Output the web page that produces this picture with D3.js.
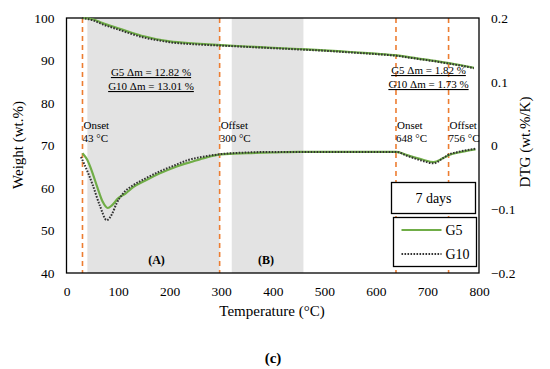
<!DOCTYPE html>
<html>
<head>
<meta charset="utf-8">
<script src="https://cdn.jsdelivr.net/npm/d3@7"></script>
<style>
  body { margin: 0; background: #fff; }
  text { font-family: "Liberation Serif", "Times New Roman", serif; fill: #000; }
</style>
</head>
<body>
<div id="chart"></div>
<script>
// temperature grid for the weight (TG) curves
var tgTemp = [30, 50, 70, 100, 125, 150, 175, 200, 250, 300, 350, 400, 450, 500, 550, 600, 640, 680, 720, 760, 790];
var tgG5   = [100, 99.7, 98.8, 97.6, 96.6, 95.7, 95.0, 94.5, 94.0, 93.6, 93.3, 93.0, 92.7, 92.4, 92.0, 91.6, 91.2, 90.5, 89.8, 89.0, 88.3];
var tgG10  = [100, 99.5, 98.5, 97.3, 96.3, 95.4, 94.8, 94.3, 93.8, 93.5, 93.2, 92.9, 92.6, 92.3, 91.9, 91.5, 91.1, 90.4, 89.7, 88.9, 88.2];

// DTG curves (wt.%/K)
var dtgTempG5 = [31, 40, 50, 60, 70, 80, 88, 100, 115, 130, 155, 180, 210, 245, 270, 300, 350, 400, 450, 500, 550, 600, 640, 660, 690, 712, 730, 742, 760, 793];
var dtgG5     = [-0.012, -0.022, -0.042, -0.066, -0.088, -0.098, -0.094, -0.083, -0.075, -0.065, -0.054, -0.044, -0.034, -0.025, -0.019, -0.014, -0.012, -0.011, -0.010, -0.010, -0.010, -0.010, -0.010, -0.015, -0.022, -0.026, -0.020, -0.015, -0.011, -0.006];
var dtgTempG10 = [28, 35, 50, 65, 78, 88, 97, 110, 130, 150, 180, 210, 235, 270, 300, 350, 400, 450, 500, 550, 600, 640, 660, 690, 712, 730, 742, 760, 793];
var dtgG10     = [-0.018, -0.03, -0.06, -0.095, -0.117, -0.108, -0.091, -0.075, -0.062, -0.053, -0.041, -0.031, -0.023, -0.017, -0.0135, -0.011, -0.010, -0.010, -0.010, -0.010, -0.010, -0.010, -0.016, -0.024, -0.028, -0.020, -0.014, -0.010, -0.005];

var xTicks = [0, 100, 200, 300, 400, 500, 600, 700, 800];
var wTicks = [40, 50, 60, 70, 80, 90, 100];
var dTicks = [-0.2, -0.1, 0, 0.1, 0.2];

var shaded = [[40.5, 297], [320.5, 459.5]];
var markers = [31, 297, 639, 741];
var markerLabels = [["Onset", "43 °C"], ["Offset", "300 °C"], ["Onset", "648 °C"], ["Offset", "756 °C"]];

var width = 550, height = 369;
var m = {left: 66.5, right: 479, top: 18, bottom: 273};

var svg = d3.select("#chart").append("svg")
  .attr("width", width).attr("height", height);

var x = d3.scaleLinear().domain([0, 800]).range([m.left, m.right]);
var yW = d3.scaleLinear().domain([40, 100]).range([m.bottom, m.top]);
var yD = d3.scaleLinear().domain([-0.2, 0.2]).range([m.bottom, m.top]);

// shaded regions
svg.append("g").selectAll("rect").data(shaded).enter().append("rect")
  .attr("x", function(d) { return x(d[0]); })
  .attr("width", function(d) { return x(d[1]) - x(d[0]); })
  .attr("y", m.top).attr("height", m.bottom - m.top)
  .attr("fill", "#e3e3e3");

// dashed orange markers
svg.append("g").selectAll("line").data(markers).enter().append("line")
  .attr("x1", function(d) { return x(d); }).attr("x2", function(d) { return x(d); })
  .attr("y1", m.top).attr("y2", m.bottom)
  .attr("stroke", "#ed7d31").attr("stroke-width", 1.6)
  .attr("stroke-dasharray", "5,4");

// axes (labels only, no ticks)
var gx = svg.append("g").attr("transform", "translate(0," + m.bottom + ")")
  .call(d3.axisBottom(x).tickValues(xTicks).tickSize(0).tickPadding(13));
var gl = svg.append("g").attr("transform", "translate(" + m.left + ",0)")
  .call(d3.axisLeft(yW).tickValues(wTicks).tickSize(0).tickPadding(12));
var gr = svg.append("g").attr("transform", "translate(" + m.right + ",0)")
  .call(d3.axisRight(yD).tickValues(dTicks).tickSize(0).tickPadding(12)
    .tickFormat(function(d) { return d3.format("")(+d.toFixed(1)); }));
[gx, gl, gr].forEach(function(g) {
  g.attr("font-family", null);
  g.select(".domain").remove();
  g.selectAll("text").style("font-family", "Liberation Serif").style("font-size", "13.5px");
});

// plot border
svg.append("rect")
  .attr("x", m.left).attr("y", m.top)
  .attr("width", m.right - m.left).attr("height", m.bottom - m.top)
  .attr("fill", "none").attr("stroke", "#000").attr("stroke-width", 1.3);

// curves
var lineW = d3.line().curve(d3.curveMonotoneX)
  .x(function(d) { return x(d[0]); }).y(function(d) { return yW(d[1]); });
var lineD = d3.line().curve(d3.curveMonotoneX)
  .x(function(d) { return x(d[0]); }).y(function(d) { return yD(d[1]); });

var green = "#70ad47", dark = "#333";
function pair(a, b) { return a.map(function(v, i) { return [v, b[i]]; }); }

svg.append("path").datum(pair(tgTemp, tgG5)).attr("d", lineW)
  .attr("fill", "none").attr("stroke", green).attr("stroke-width", 2.2);
svg.append("path").datum(pair(dtgTempG5, dtgG5)).attr("d", lineD)
  .attr("fill", "none").attr("stroke", green).attr("stroke-width", 2.2);
svg.append("path").datum(pair(tgTemp, tgG10)).attr("d", lineW)
  .attr("fill", "none").attr("stroke", dark).attr("stroke-width", 2)
  .attr("stroke-dasharray", "1.6,1.4");
svg.append("path").datum(pair(dtgTempG10, dtgG10)).attr("d", lineD)
  .attr("fill", "none").attr("stroke", dark).attr("stroke-width", 2)
  .attr("stroke-dasharray", "1.6,1.4");

// mass-loss annotations
function massNote(cx, y, lines) {
  lines.forEach(function(t, i) {
    svg.append("text").attr("x", cx).attr("y", y + i * 14)
      .attr("text-anchor", "middle").style("font-size", "11px")
      .style("text-decoration", "underline").text(t);
  });
}
massNote(151, 76, ["G5 \u0394m = 12.82 %", "G10 \u0394m = 13.01 %"]);
massNote(428.5, 74, ["G5 \u0394m = 1.82 %", "G10 \u0394m = 1.73 %"]);

// onset/offset labels
markers.forEach(function(t, i) {
  var g = svg.append("text").attr("x", x(t) + 1).attr("y", 129).style("font-size", "11px");
  g.append("tspan").text(markerLabels[i][0]);
  g.append("tspan").attr("x", x(t)).attr("dy", 13).text(markerLabels[i][1]);
});

// region labels
svg.append("text").attr("x", 156.5).attr("y", 264).attr("text-anchor", "middle")
  .style("font-size", "12px").style("font-weight", "bold").text("(A)");
svg.append("text").attr("x", 266).attr("y", 264).attr("text-anchor", "middle")
  .style("font-size", "12px").style("font-weight", "bold").text("(B)");

// axis titles
svg.append("text").attr("x", 272).attr("y", 316).attr("text-anchor", "middle")
  .style("font-size", "15px").text("Temperature (\u00b0C)");
svg.append("text").attr("transform", "translate(23,145) rotate(-90)")
  .attr("text-anchor", "middle").style("font-size", "15px").text("Weight (wt.%)");
svg.append("text").attr("transform", "translate(530,142) rotate(-90)")
  .attr("text-anchor", "middle").style("font-size", "15px").text("DTG (wt.%/K)");

// legend
svg.append("rect").attr("x", 391.5).attr("y", 182.5).attr("width", 84).attr("height", 31)
  .attr("fill", "#fff").attr("stroke", "#000").attr("stroke-width", 1.3);
svg.append("text").attr("x", 433.5).attr("y", 203).attr("text-anchor", "middle")
  .style("font-size", "14px").text("7 days");
svg.append("rect").attr("x", 393.5).attr("y", 217.5).attr("width", 83).attr("height", 49)
  .attr("fill", "#fff").attr("stroke", "#000").attr("stroke-width", 1.3);
var leg = [["G5", green, null, 230], ["G10", dark, "1.6,1.4", 254]];
leg.forEach(function(d) {
  svg.append("line").attr("x1", 401.5).attr("x2", 441.5).attr("y1", d[3]).attr("y2", d[3])
    .attr("stroke", d[1]).attr("stroke-width", 2).attr("stroke-dasharray", d[2]);
  svg.append("text").attr("x", 445.5).attr("y", d[3] + 5).style("font-size", "14px").text(d[0]);
});

// panel label
svg.append("text").attr("x", 273).attr("y", 363).attr("text-anchor", "middle")
  .style("font-size", "15px").style("font-weight", "bold").text("(c)");
</script>
</body>
</html>
